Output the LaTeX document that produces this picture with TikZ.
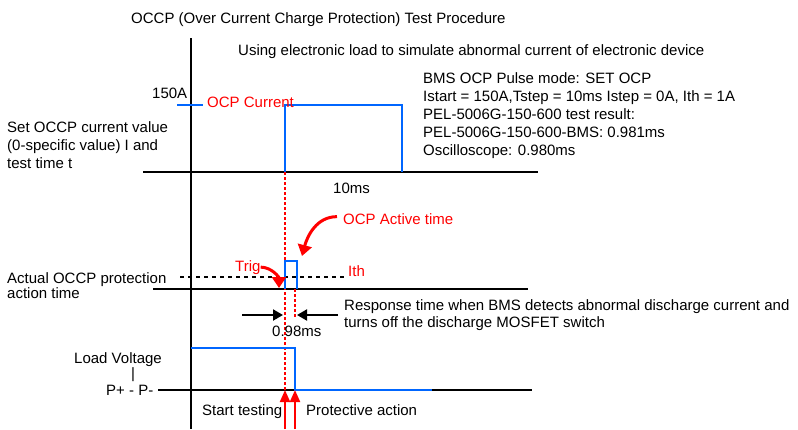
\documentclass[tikz,border=0pt]{standalone}
\usepackage{fontspec}
\setmainfont{Liberation Sans}
\usetikzlibrary{arrows,arrows.meta}
\usetikzlibrary{calc}
\tikzset{>=latex}
\definecolor{pulseblue}{RGB}{0,102,255}
\tikzstyle{axis} = [line width = 2, color = black]
\tikzstyle{pulse} = [line width = 2, color = pulseblue]
\tikzstyle{marker} = [%
					line width = 2, 
					color = red,
					dash pattern = on 3pt off 2pt
					]
\tikzstyle{level} = [line width = 2, dash pattern = on 4pt off 4pt]
\tikzstyle{pointer} = [%
					line width = 3, 
					color = red,
					-{Triangle[width=14pt,length=11pt]}
					]
\tikzstyle{gap} = [line width = 2, -{Triangle[width=11pt,length=10pt]}]
\tikzstyle{rise} = [line width = 2, color = red, -{Triangle[width=10pt,length=12pt]}]
\tikzstyle{txt} = [anchor = base west, inner sep = 0pt]
\tikzstyle{redtxt} = [txt, color = red]

\begin{document}
\begin{tikzpicture}[x=1pt, y=-1pt, font=\fontsize{15}{18}\selectfont]
	
	\useasboundingbox (0,0) rectangle (798,429);
	
	% Coordinates
	\coordinate (top)       at (191,38);
	\coordinate (bottom)    at (191,429);
	\coordinate (trigtip)   at (279,288);
	\coordinate (activetip) at (302,256);
	
	% Axes
	\draw[axis] (top) -- (bottom);
	\draw[axis] (143,172) -- (538,172);
	\draw[axis] (153,289) -- (528,289);
	\draw[axis] (158,390) -- (532,390);
	
	% Red Markers
	\draw[marker] (285,172) -- (285,390);
	\draw[marker] (295,289) -- (295,318);
	
	% Ith Level
	\draw[level] (180,277) -- (345,277);
	
	% Pulses
	\draw[pulse] (177,105) -- (203,105);
	\draw[pulse] (285,172) -- (285,105) -- (402,105) -- (402,172);
	\draw[pulse] (285,289) -- (285,261) -- (297,261) -- (297,289);
	\draw[pulse] (191,348) -- (295,348) -- (295,390) -- (432,390);
	
	% Texts (multi-line nodes sit on their last baseline)
	\node[txt] (title) at (131,23) {OCCP (Over Current Charge Protection) Test Procedure};
	\node[txt] (usage) at (238,55) {Using electronic load to simulate abnormal current of electronic device};
	\node[txt] (imax) at (152,98) {150A};
	\node[redtxt] (ocp) at (207,107) {OCP Current};
	\node[txt, align=left] (setup) at (7,168) {Set OCCP current value\\(0-specific value) I and\\test time t};
	\node[txt] (tenms) at (333,193) {10ms};
	\node[txt, align=left] (result) at (423,155) {BMS OCP Pulse mode: SET OCP\\Istart = 150A,Tstep = 10ms Istep = 0A, Ith = 1A\\PEL-5006G-150-600 test result:\\PEL-5006G-150-600-BMS: 0.981ms\\Oscilloscope: 0.980ms};
	\node[redtxt] (active) at (343,224) {OCP Active time};
	\node[redtxt] (trig) at (235,271) {Trig};
	\node[redtxt] (ith) at (348,276) {Ith};
	\node[txt, align=left, font=\fontsize{15}{15}\selectfont] (actual) at (7,298) {Actual OCCP protection\\action time};
	\node[txt, align=left, font=\fontsize{15}{16.5}\selectfont] (response) at (344,327) {Response time when BMS detects abnormal discharge current and\\turns off the discharge MOSFET switch};
	\node[txt] (delay) at (272,336) {0.98ms};
	\node[txt] (load) at (74,363) {Load Voltage};
	\node[txt] (bar) at (131,378) {|};
	\node[txt] (pins) at (106,395) {P+ - P-};
	\node[txt] (start) at (202,415) {Start testing};
	\node[txt] (protect) at (306,415) {Protective action};
	
	% Red Pointers
	\draw[pointer] (trig.east) to[out=0, in=90] (trigtip);
	\draw[pointer] ([xshift=-6pt, yshift=2pt]active.west) to[out=180, in=75] (activetip);
	
	% Response Time
	\draw[gap] (242,315) -- (283,315);
	\draw[gap] (338,315) -- (297,315);
	
	% Start / Protect Arrows
	\draw[rise] (285,429) -- (285,390);
	\draw[rise] (295,429) -- (295,390);

\end{tikzpicture}
\end{document}
